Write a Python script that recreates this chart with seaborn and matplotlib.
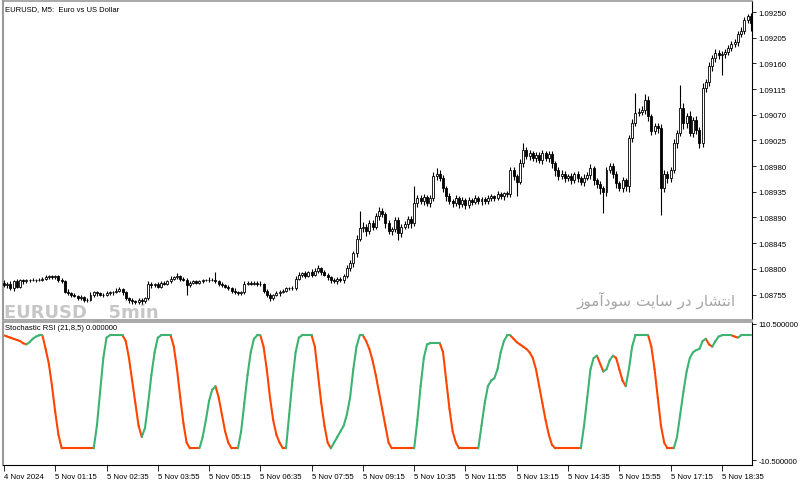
import numpy as np
import pandas as pd
import seaborn as sns
import matplotlib
matplotlib.use("Agg")
import matplotlib.pyplot as plt

sns.set_theme(style="white")
plt.rcParams["font.family"] = ["Liberation Sans", "DejaVu Sans"]

# ---------------- data (prices in points, 1e-5) ----------------
first_open_pts = 108776
closes_pts = [
    108771,108774,108766,108778,108769,108780,108778,108780,108781,108780,
    108781,108781,108783,108785,108787,108785,108787,108781,108778,108760,
    108757,108754,108752,108748,108750,108745,108746,108754,108759,108757,
    108754,108755,108757,108759,108760,108762,108764,108759,108748,108745,
    108743,108741,108746,108743,108748,108774,108771,108773,108769,108776,
    108774,108778,108783,108785,108788,108783,108780,108771,108776,108778,
    108776,108778,108780,108780,108781,108780,108778,108774,108771,108769,
    108766,108762,108759,108757,108760,108774,108776,108774,108776,108774,
    108773,108762,108754,108748,108754,108757,108760,108762,108766,108766,
    108767,108783,108790,108792,108788,108794,108790,108797,108801,108794,
    108790,108785,108780,108778,108783,108780,108787,108801,108810,108827,
    108853,108871,108874,108866,108880,108874,108892,108901,108896,108880,
    108867,108869,108885,108862,108874,108878,108888,108880,108915,108924,
    108918,108925,108915,108924,108962,108967,108959,108941,108927,108918,
    108915,108924,108913,108920,108911,108920,108917,108924,108918,108922,
    108918,108924,108927,108924,108931,108927,108932,108931,108973,108962,
    108953,108985,109008,108997,109003,108994,108999,108990,109003,108994,
    109001,108985,108973,108962,108967,108959,108962,108955,108966,108959,
    108952,108960,108964,108976,108955,108948,108941,108934,108973,108980,
    108966,108950,108941,108955,108945,109029,109055,109073,109075,109078,
    109096,109067,109041,109050,109046,108941,108967,108959,108973,109020,
    109038,109082,109055,109067,109038,109060,109043,109020,109117,109127,
    109155,109169,109178,109175,109176,109180,109187,109194,109197,109211,
    109217,109236,109243,109231,
]
upper_wick_pts = [
    4,3,5,2,4,3,2,3,2,3, 2,3,2,4,3,2,3,2,3,3, 4,2,3,2,4,3,2,5,3,2,
    3,2,4,3,2,5,4,3,2,3, 4,2,3,2,3,5,3,2,4,3, 2,3,4,3,5,2,3,4,3,2,
    3,2,3,2,4,3,15,2,3,2, 3,2,4,3,2,5,3,2,3,2, 4,3,2,3,2,4,3,2,3,3,
    3,5,4,3,4,3,5,4,6,3, 4,3,2,4,3,3,4,5,6,5, 6,30,8,5,6,5,6,8,5,4,
    5,4,6,5,4,6,5,4,30,6, 5,6,4,5,8,10,6,5,4,5, 4,5,4,6,4,5,4,5,4,3,
    4,5,4,3,5,4,3,4,5,6, 5,8,12,6,5,4,6,5,6,4, 5,6,4,5,6,4,5,6,4,5,
    4,6,5,8,5,4,6,5,6,5, 6,5,4,6,5,6,8,35,6,8, 10,6,5,6,5,8,6,5,6,7,
    6,40,8,6,10,6,7,6,8,6, 8,6,7,5,6,5,6,5,6,5, 6,5,4,5,
]
lower_wick_pts = [
    3,5,3,4,2,3,4,2,3,2, 3,2,3,2,3,2,3,4,3,3, 3,4,2,3,3,4,3,2,3,4,
    2,3,2,3,4,2,3,4,3,5, 4,3,2,4,3,3,4,3,2,3, 3,2,3,2,3,4,2,17,3,2,
    3,2,3,2,3,2,3,4,3,2, 3,4,3,2,3,4,3,2,3,4, 3,4,3,5,3,2,4,3,2,3,
    3,4,3,5,4,3,4,3,5,4, 3,4,5,3,4,3,4,3,5,6, 6,5,6,8,5,6,5,6,5,8,
    6,8,5,12,6,5,6,8,5,6, 5,6,5,6,5,6,5,6,8,5, 6,5,6,5,6,5,6,4,5,6,
    5,4,6,5,4,5,6,5,6,6, 26,5,6,5,6,5,6,5,6,5, 6,8,10,6,5,6,5,6,5,6,
    5,6,5,6,8,6,10,37,6,5, 6,8,5,6,8,10,6,5,6,5, 6,8,6,5,8,47,6,8,6,5,
    8,6,10,8,6,7,6,8,6,7, 6,8,6,7,36,6,5,6,5,6, 5,6,5,14,
]
stoch_rsi = [
    100,99,98,97,96,95,93,92,94,97,
    99,100,100,88,75,55,32,12,0,0,
    0,0,0,0,0,0,0,0,0,20,
    50,80,98,100,100,100,100,100,95,80,
    60,40,20,10,18,40,65,85,98,100,
    100,100,100,90,70,45,22,5,0,0,
    0,0,10,25,42,52,55,45,30,15,
    5,0,0,0,15,40,65,85,97,100,
    100,90,70,45,25,12,5,0,0,30,
    60,85,98,100,100,100,100,90,65,40,
    20,5,0,5,10,15,20,30,45,70,
    90,100,100,95,88,78,65,50,35,20,
    5,0,0,0,0,0,0,0,0,25,
    55,80,92,93,93,93,93,85,60,35,
    15,5,0,0,0,0,0,0,0,20,
    40,55,60,62,70,85,95,100,100,97,
    94,92,90,88,85,80,70,55,40,25,
    12,3,0,0,0,0,0,0,0,0,
    0,20,45,70,80,82,75,68,70,78,
    82,80,70,60,55,70,90,100,100,100,
    100,100,90,70,45,20,5,0,0,0,
    10,30,50,68,80,85,87,88,95,97,
    92,90,95,99,100,100,100,100,99,98,
    100,100,100,100,
]
price_ticks = [1.09250, 1.09205, 1.09160, 1.09115, 1.09070, 1.09025,
               1.08980, 1.08935, 1.08890, 1.08845, 1.08800, 1.08755]
time_labels = ["4 Nov 2024", "5 Nov 01:15", "5 Nov 02:35", "5 Nov 03:55",
               "5 Nov 05:15", "5 Nov 06:35", "5 Nov 07:55", "5 Nov 09:15",
               "5 Nov 10:35", "5 Nov 11:55", "5 Nov 13:15", "5 Nov 14:35",
               "5 Nov 15:55", "5 Nov 17:15", "5 Nov 18:35"]
bars_per_label = 16
ind_ticks = [110.5, -10.5]

# ---------------- derived ----------------
n = len(closes_pts)
c = np.array(closes_pts) / 1e5
o = np.array([first_open_pts] + closes_pts[:-1]) / 1e5
hi = np.maximum(o, c) + np.array(upper_wick_pts[:n]) / 1e5
lo = np.minimum(o, c) - np.array(lower_wick_pts[:n]) / 1e5
x = np.arange(n)

W, H = 800, 485
def fx(px): return px / W
def fy(py): return 1 - py / H

fig = plt.figure(figsize=(8, 4.85), dpi=100)
fig.patch.set_facecolor("white")
ax = fig.add_axes([fx(3), fy(320.5), fx(752) - fx(3), fy(2) - fy(320.5)])
ax2 = fig.add_axes([fx(3), fy(466), fx(752) - fx(3), fy(322.5) - fy(466)])
for a in (ax, ax2):
    a.set_facecolor("white")
    a.grid(False)

# watermark (behind candles)
ax.text((4 - 3) / 749, (320.5 - 318) / 318.5, "EURUSD _ 5min", fontsize=13,
        fontweight="bold", family=["DejaVu Sans Condensed", "DejaVu Sans"],
        va="baseline", ha="left", color="#C6C6C6", transform=ax.transAxes,
        zorder=0)

# candles
ax.vlines(x, lo, hi, color="black", lw=0.8, zorder=2)
bull = c >= o
body = np.abs(c - o)
ax.bar(x[bull], body[bull], bottom=np.minimum(o, c)[bull], width=0.62,
       facecolor="white", edgecolor="black", lw=0.6, zorder=3)
ax.bar(x[~bull], body[~bull], bottom=np.minimum(o, c)[~bull], width=0.62,
       facecolor="black", edgecolor="black", lw=0.6, zorder=3)

ax.set_xlim(-0.3, 233.4)
ax.set_ylim(1.087112, 1.092693)
ax.yaxis.tick_right()
ax.set_yticks(price_ticks)
ax.set_yticklabels([f"{v:.5f}" for v in price_ticks])
ax.set_xticks([])
ax.tick_params(axis="y", direction="out", length=3, width=0.6, pad=1.5,
               labelsize=5.6, colors="black", right=True, left=False)

# indicator line coloured by direction
rows = []
prev_dir = "down"
for k in range(n - 1):
    if stoch_rsi[k + 1] > stoch_rsi[k]:
        d = "up"
    elif stoch_rsi[k + 1] < stoch_rsi[k]:
        d = "down"
    else:
        d = prev_dir
    prev_dir = d
    rows.append((k, k, stoch_rsi[k], d))
    rows.append((k, k + 1, stoch_rsi[k + 1], d))
df = pd.DataFrame(rows, columns=["seg", "bar", "val", "dir"])
sns.lineplot(data=df, x="bar", y="val", hue="dir", units="seg",
             estimator=None, sort=False, legend=False, linewidth=1.5,
             palette={"up": "#3CB371", "down": "#FF4500"}, ax=ax2)
ax2.set_xlim(-0.3, 233.4)
ax2.set_ylim(-14.8, 112.3)
ax2.set_xlabel("")
ax2.set_ylabel("")
ax2.yaxis.tick_right()
ax2.set_yticks(ind_ticks)
ax2.set_yticklabels([f"{v:.6f}" for v in ind_ticks])
ax2.tick_params(axis="y", direction="out", length=3, width=0.6, pad=1.5,
                labelsize=5.6, colors="black", right=True, left=False)
tick_pos = [i * bars_per_label for i in range(len(time_labels))]
ax2.set_xticks(tick_pos)
ax2.set_xticklabels(time_labels)
ax2.tick_params(axis="x", direction="out", length=4, width=0.6, pad=2,
                labelsize=5.6, colors="black", bottom=True)
for lbl in ax2.get_xticklabels():
    lbl.set_ha("left")

for a in (ax, ax2):
    a.spines["left"].set_color("#9A9A9A")
    a.spines["left"].set_linewidth(1.5)
    a.spines["top"].set_color("#9A9A9A")
    a.spines["top"].set_linewidth(1.2)
    a.spines["right"].set_color("black")
    a.spines["right"].set_linewidth(0.8)
ax.spines["bottom"].set_color("#9A9A9A")
ax.spines["bottom"].set_linewidth(1.2)
ax2.spines["bottom"].set_color("black")
ax2.spines["bottom"].set_linewidth(0.8)

# texts
fig.text(fx(5), fy(10), "EURUSD, M5:  Euro vs US Dollar", fontsize=5.5,
         va="center", ha="left", color="black")
fig.text(fx(5), fy(329), "Stochastic RSI (21,8,5) 0.000000", fontsize=5.5,
         va="center", ha="left", color="black")
persian = ("\uFEAF\uFEEE\uFEE3\uFE81\uFEA9\uFEEE\uFEB3 "
           "\uFE96\uFBFE\uFE8E\uFEB3 \uFEAD\uFEA9 "
           "\uFEAD\uFE8E\uFEB8\uFE98\uFEE7\uFE8D")
fig.text(fx(736), fy(300), persian, fontsize=11, family=["DejaVu Sans"],
         va="center", ha="right", color="#A6A6A6")

fig.savefig("out.png", dpi=100, facecolor="white")
